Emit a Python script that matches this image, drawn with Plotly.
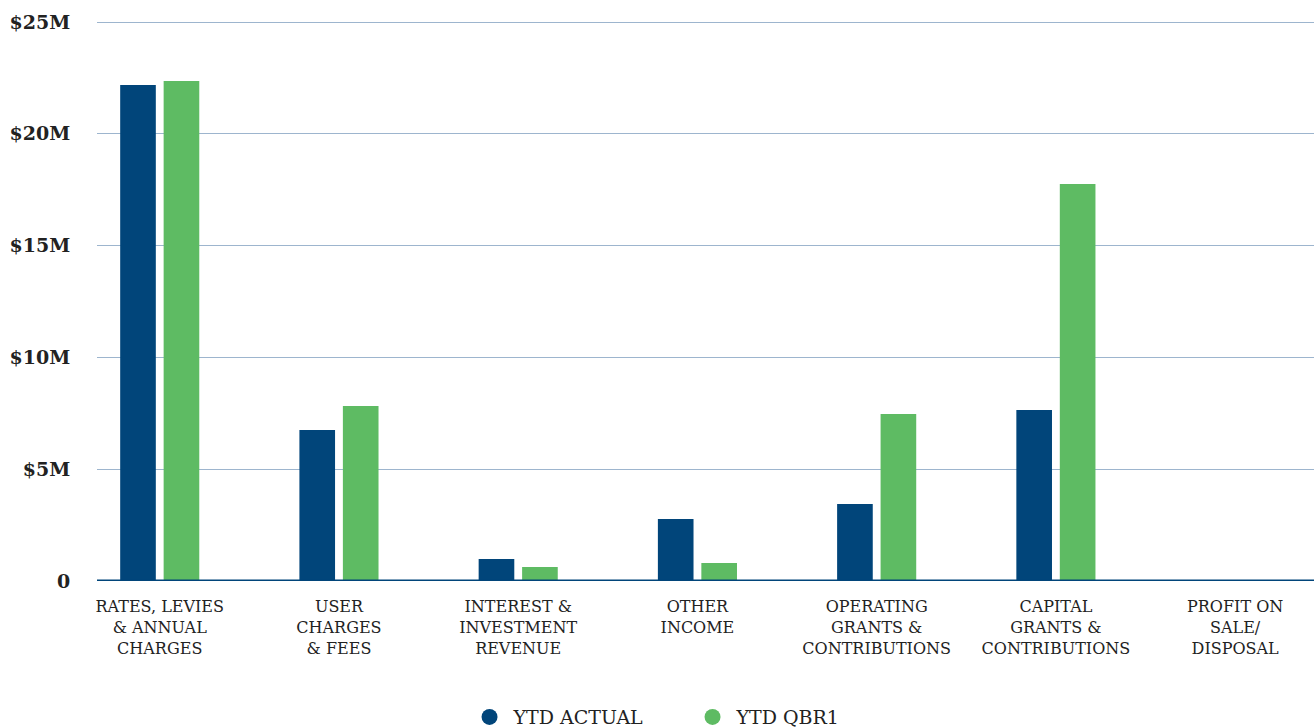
import plotly.graph_objects as go

categories = [
    "RATES, LEVIES<br>& ANNUAL<br>CHARGES",
    "USER<br>CHARGES<br>& FEES",
    "INTEREST &<br>INVESTMENT<br>REVENUE",
    "OTHER<br>INCOME",
    "OPERATING<br>GRANTS &<br>CONTRIBUTIONS",
    "CAPITAL<br>GRANTS &<br>CONTRIBUTIONS",
    "PROFIT ON<br>SALE/<br>DISPOSAL",
]
ytd_actual = [22.18, 6.75, 0.98, 2.77, 3.44, 7.65, 0.0]
ytd_qbr1 = [22.36, 7.83, 0.63, 0.81, 7.47, 17.76, 0.0]
tick_vals = [0, 5, 10, 15, 20, 25]
tick_text = ["0", "$5M", "$10M", "$15M", "$20M", "$25M"]

BLUE = "#01457A"
GREEN = "#5EBB63"

fig = go.Figure()
fig.add_trace(go.Bar(x=categories, y=ytd_actual, name="YTD ACTUAL", marker_color=BLUE, showlegend=False))
fig.add_trace(go.Bar(x=categories, y=ytd_qbr1, name="YTD QBR1", marker_color=GREEN, showlegend=False))
# legend entries with circle markers
fig.add_trace(go.Scatter(x=[None], y=[None], mode="markers", name="YTD ACTUAL",
                         marker=dict(color=BLUE, size=16, symbol="circle")))
fig.add_trace(go.Scatter(x=[None], y=[None], mode="markers", name="YTD QBR1",
                         marker=dict(color=GREEN, size=16, symbol="circle")))

fig.update_layout(
    width=1314, height=728,
    margin=dict(l=97, r=0, t=20, b=147),
    plot_bgcolor="white", paper_bgcolor="white",
    barmode="group", bargap=0.515, bargroupgap=0.18,
    font=dict(family="DejaVu Serif", color="#222222"),
    legend=dict(orientation="h", xref="container", yref="container",
                x=0.524, xanchor="center", y=0.015, yanchor="middle",
                font=dict(size=19, family="DejaVu Serif", color="#222222"),
                entrywidth=170, traceorder="normal", itemwidth=38),
    showlegend=True,
)
fig.update_xaxes(
    range=[-0.35, 6.44], showgrid=False, showline=False, zeroline=False, automargin=False,
    tickfont=dict(size=16, family="DejaVu Serif", color="#222222"),
    ticks="outside", ticklen=11, tickcolor="rgba(0,0,0,0)", tickangle=0,
)
fig.update_yaxes(
    range=[0, 25.09], tickvals=tick_vals, ticktext=tick_text, automargin=False,
    showgrid=True, gridcolor="#9DB5CE", gridwidth=1,
    zeroline=False, showline=False,
    tickfont=dict(size=19, family="DejaVu Serif", color="#222222", weight="bold"),
    ticks="outside", ticklen=22, tickcolor="rgba(0,0,0,0)",
)
fig.add_hline(y=0, line=dict(color=BLUE, width=3))
fig.update_traces(selector=dict(type="bar"), marker_line_width=0)
fig.write_html("out.html")
